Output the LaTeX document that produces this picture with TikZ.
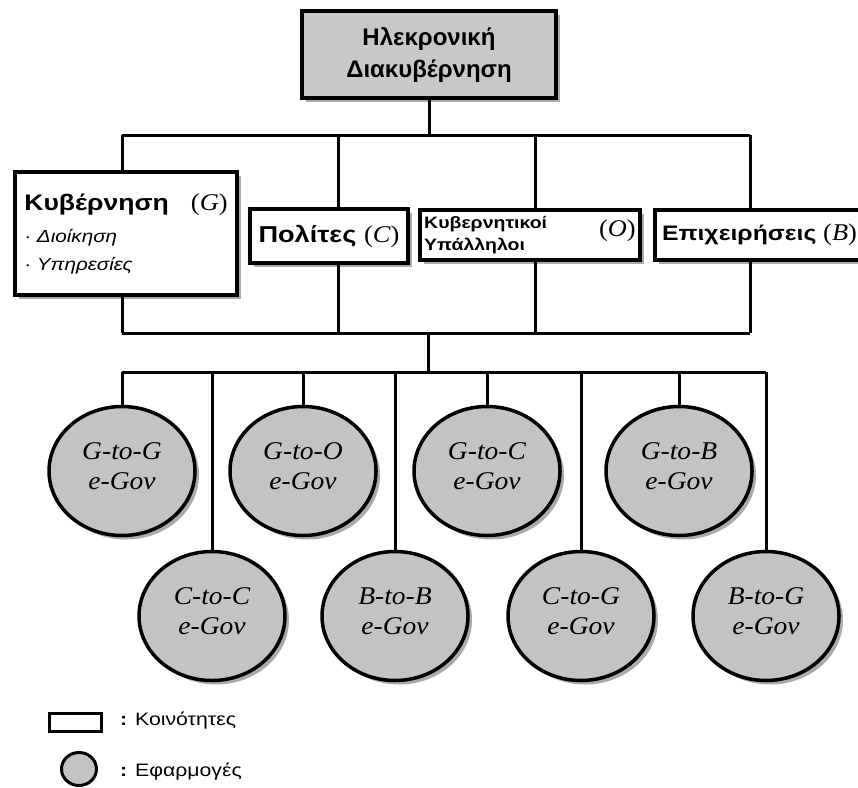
\documentclass[tikz,border=0pt]{standalone}
\usepackage{fontspec}
\setmainfont{Liberation Sans}
\newfontfamily\widesans[FakeStretch=1.18]{Liberation Sans}
\newfontfamily\timesfam[FakeStretch=1.08]{Liberation Serif}
\newfontfamily\widetimes[FakeStretch=1.1]{Liberation Serif}
\usetikzlibrary{shapes.geometric,shadows}
\definecolor{boxgray}{RGB}{200,200,200}
\definecolor{appgray}{RGB}{195,195,195}
\newcommand{\actor}[1]{{\widetimes\mdseries\fontsize{24}{24}\selectfont(\textit{#1})}}

\begin{document}
\begin{tikzpicture}[x=1pt,y=-1pt]
\tikzstyle{every node}+=[inner sep=0pt]
\tikzstyle{boxshadow}=[drop shadow={shadow xshift=4pt,shadow yshift=-4pt,fill=black!55,opacity=0.6}]
\tikzstyle{community}=[rectangle,draw=black,line width=4pt,fill=white,boxshadow]
\tikzstyle{app}=[ellipse,draw=black,line width=3.5pt,fill=appgray,boxshadow,minimum width=146pt,minimum height=129pt,align=center,text depth=10pt,font=\timesfam\itshape\fontsize{25.5}{30}\selectfont]
\tikzstyle{link}=[black,line width=3pt]
\tikzstyle{keytext}=[anchor=west,font=\widesans\fontsize{18}{22}\selectfont]
\useasboundingbox (0,0) rectangle (858,787);
% communities
\node [community,fill=boxgray,minimum width=254pt,minimum height=87pt,align=center,font=\bfseries\fontsize{24}{32}\selectfont] (egov) at (429,54.5) {Ηλεκρονική\\Διακυβέρνηση};
\node [community,minimum width=222pt,minimum height=123pt,align=left,font=\widesans\fontsize{17.5}{28}\selectfont] (gov) at (126,233.5) {{\bfseries\fontsize{22.5}{26}\selectfont Κυβέρνηση}\hspace{22pt}\actor{G}\\[4pt] \textit{· Διοίκηση}\\ \textit{· Υπηρεσίες}};
\node [community,minimum width=158pt,minimum height=54pt,font=\widesans\bfseries\fontsize{23}{26}\selectfont] (cit) at (329,236) {Πολίτες \actor{C}};
\node [community,minimum width=220pt,minimum height=50pt,font=\widesans\bfseries\fontsize{16.5}{22}\selectfont] (emp) at (530,235) {\begin{tabular}{@{}l@{}}Κυβερνητικοί\\Υπάλληλοι\end{tabular}\hspace{52pt}\raisebox{3pt}{\actor{O}}};
\node [community,minimum width=209pt,minimum height=50pt,font=\widesans\bfseries\fontsize{21}{26}\selectfont] (bus) at (759.5,235) {Επιχειρήσεις \actor{B}};
% tree lines
\foreach \n/\x in {gov/122,cit/338,emp/535,bus/750}{
  \coordinate (\n-up) at (\x,135);
  \coordinate (\n-down) at (\x,333);
  \draw [link] (\n-up) -- (\n-up |- \n.north);
  \draw [link] (\n-down) -- (\n-down |- \n.south);
}
\draw [link] (egov.south) -- (egov.south |- gov-up);
\draw [link] (gov-up) -- (bus-up);
\draw [link] (gov-down) -- (bus-down);
\coordinate (hub) at (428,372);
\draw [link] (hub |- gov-down) -- (hub);
% applications
\foreach \n/\x/\y/\a/\b in {gg/122/471/G/G,cc/212/616/C/C,go/303/471/G/O,bb/395/616/B/B,gc/487/471/G/C,cg/581/616/C/G,gb/679/471/G/B,bg/766/616/B/G}{
  \node [app] (\n) at (\x,\y) {\a-to-\b\\e-Gov};
  \draw [link] (\n |- hub) -- (\n.north);
}
\draw [link] (gg |- hub) -- (bg |- hub);
% legend
\node [draw=black,line width=3pt,minimum width=52pt,minimum height=18pt] (keybox) at (75.5,722.5) {};
\node [keytext] (keyboxtext) at (120,721) {\textbf{:} Κοινότητες};
\node [ellipse,draw=black,line width=3pt,fill=appgray,minimum width=35pt,minimum height=33pt] (keyapp) at (79,769) {};
\node [keytext] (keyapptext) at (120,772) {\textbf{:} Εφαρμογές};
\end{tikzpicture}
\end{document}
